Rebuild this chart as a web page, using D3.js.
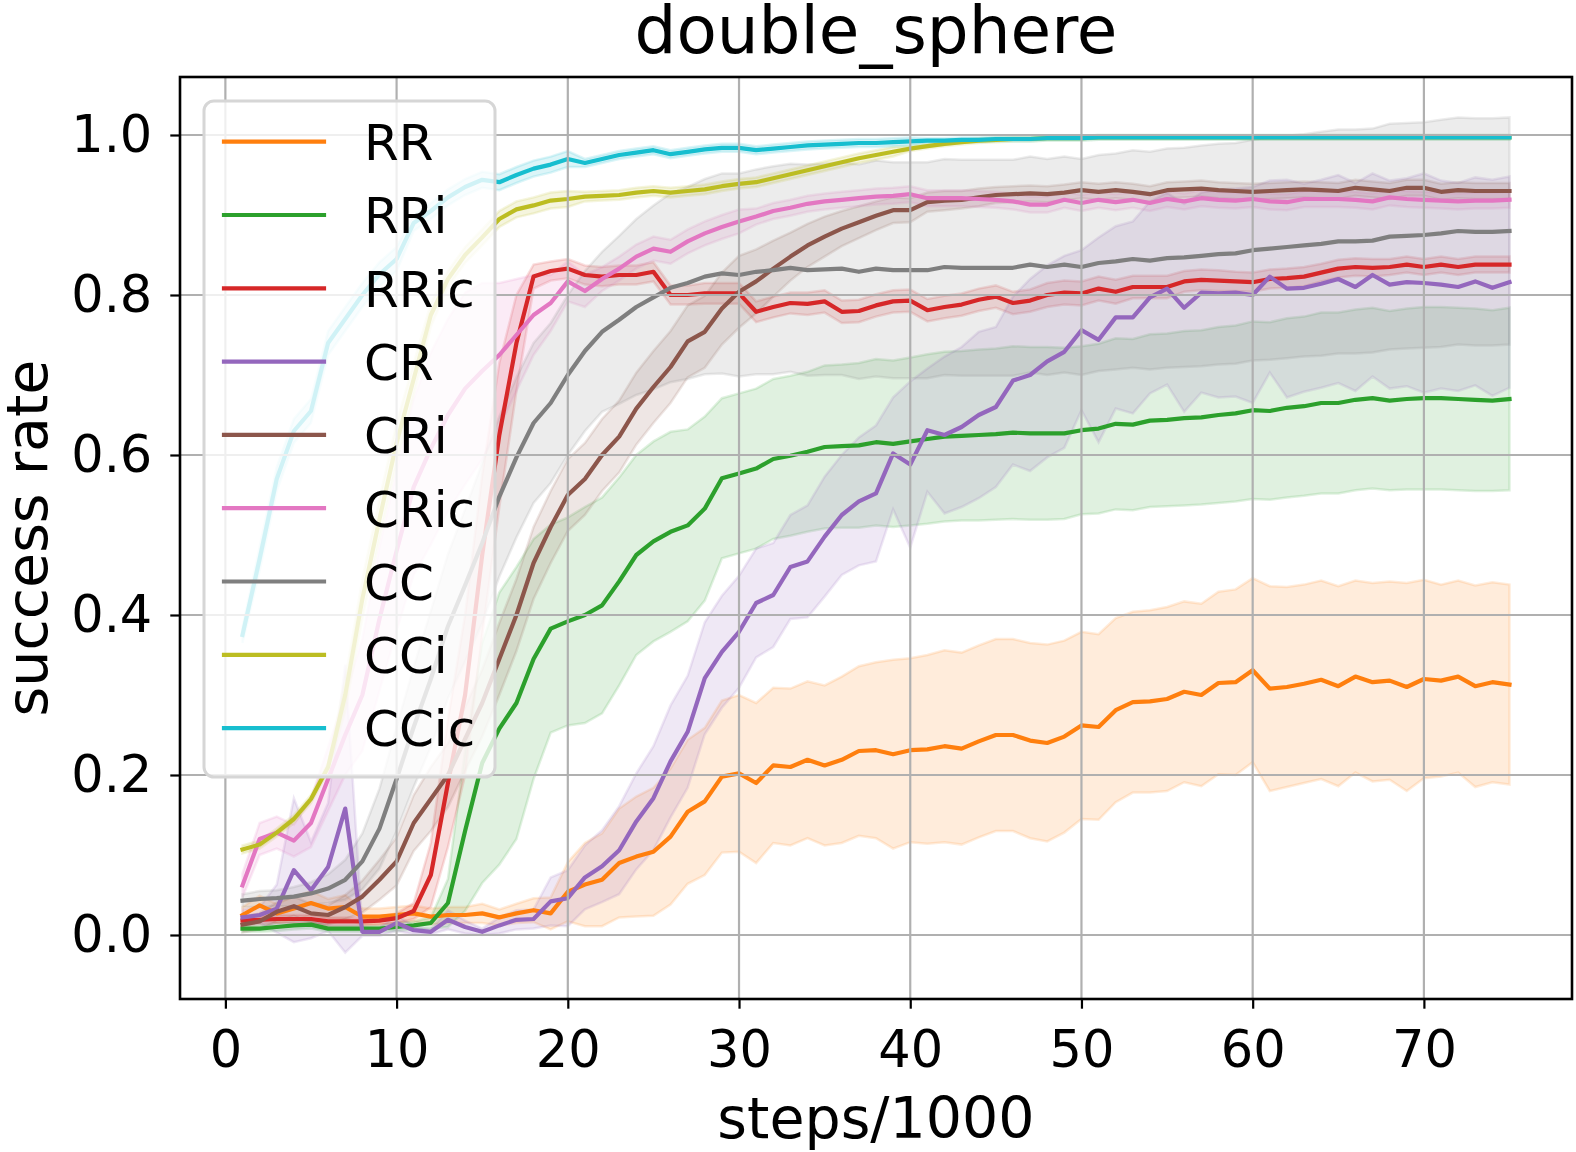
<!DOCTYPE html>
<html><head><meta charset="utf-8">
<script src="https://cdn.jsdelivr.net/npm/d3@7"></script>
<style>body{margin:0;background:#fff}svg{display:block}text{font-family:"DejaVu Sans",sans-serif;fill:#000}</style>
</head><body>
<svg id="c" width="1576" height="1152"></svg>
<script>
const steps = d3.range(1, 76);
const names = ["RR","RRi","RRic","CR","CRi","CRic","CC","CCi","CCic"];
const colors = ["#ff7f0e","#2ca02c","#d62728","#9467bd","#8c564b","#e377c2","#7f7f7f","#bcbd22","#17becf"];
const xTicks = [0,10,20,30,40,50,60,70];
const yTicks = [0.0,0.2,0.4,0.6,0.8,1.0];

const RR = [0.025,0.037,0.027,0.033,0.04,0.033,0.035,0.023,0.023,0.025, 0.027,0.023,0.025,0.025,0.027,0.022,0.027,0.031,0.027,0.054, 0.063,0.069,0.09,0.098,0.104,0.123,0.154,0.167,0.198,0.202, 0.19,0.212,0.21,0.219,0.212,0.219,0.23,0.231,0.226,0.231, 0.232,0.236,0.233,0.242,0.25,0.25,0.243,0.24,0.248,0.262, 0.26,0.281,0.291,0.292,0.295,0.304,0.3,0.315,0.316,0.331, 0.308,0.31,0.314,0.319,0.311,0.323,0.316,0.318,0.31,0.32, 0.318,0.323,0.311,0.316,0.313];
const RR_sd = [0.01,0.012,0.012,0.015,0.015,0.012,0.015,0.01,0.01,0.01, 0.01,0.01,0.01,0.01,0.012,0.01,0.012,0.015,0.02,0.037, 0.052,0.058,0.068,0.075,0.08,0.085,0.09,0.092,0.095,0.098, 0.1,0.097,0.098,0.098,0.1,0.104,0.106,0.11,0.118,0.115, 0.118,0.12,0.12,0.12,0.12,0.12,0.122,0.123,0.12,0.117, 0.116,0.115,0.113,0.114,0.115,0.113,0.114,0.114,0.116,0.115, 0.128,0.125,0.124,0.124,0.125,0.12,0.124,0.124,0.13,0.124, 0.12,0.12,0.126,0.125,0.125];

const RRi = [0.008,0.008,0.01,0.012,0.013,0.008,0.008,0.008,0.008,0.01, 0.012,0.015,0.04,0.13,0.215,0.258,0.29,0.345,0.383,0.392, 0.40,0.412,0.442,0.475,0.492,0.504,0.512,0.533,0.571,0.577, 0.583,0.595,0.599,0.604,0.61,0.611,0.612,0.616,0.614,0.617, 0.62,0.623,0.624,0.625,0.626,0.628,0.627,0.627,0.627,0.631, 0.633,0.639,0.638,0.643,0.644,0.646,0.647,0.65,0.652,0.656, 0.655,0.659,0.661,0.665,0.665,0.669,0.671,0.668,0.67,0.671, 0.671,0.67,0.669,0.668,0.67];
const RRi_sd = [0.004,0.004,0.005,0.005,0.005,0.004,0.004,0.004,0.004,0.005, 0.005,0.007,0.03,0.1,0.15,0.17,0.17,0.15,0.13,0.13, 0.135,0.135,0.13,0.125,0.125,0.125,0.12,0.115,0.1,0.1, 0.1,0.1,0.1,0.1,0.102,0.102,0.103,0.104,0.104,0.105, 0.106,0.106,0.106,0.107,0.107,0.108,0.108,0.108,0.107,0.105, 0.106,0.107,0.107,0.108,0.108,0.109,0.109,0.11,0.11,0.111, 0.111,0.112,0.112,0.113,0.113,0.113,0.113,0.112,0.113,0.114, 0.114,0.114,0.114,0.113,0.114];

const RRic = [0.018,0.019,0.02,0.02,0.02,0.017,0.017,0.017,0.018,0.021, 0.03,0.075,0.19,0.30,0.475,0.625,0.74,0.823,0.83,0.833, 0.825,0.823,0.825,0.825,0.829,0.80,0.80,0.802,0.802,0.802, 0.779,0.785,0.79,0.789,0.792,0.779,0.78,0.787,0.792,0.793, 0.781,0.785,0.788,0.794,0.798,0.79,0.793,0.80,0.803,0.802, 0.808,0.804,0.81,0.81,0.81,0.817,0.819,0.818,0.817,0.816, 0.82,0.821,0.823,0.828,0.833,0.835,0.834,0.835,0.838,0.835, 0.838,0.835,0.838,0.838,0.838];
const RRic_sd = [0.005,0.005,0.005,0.005,0.005,0.005,0.005,0.005,0.005,0.006, 0.01,0.04,0.08,0.1,0.1,0.09,0.06,0.015,0.012,0.012, 0.012,0.012,0.012,0.012,0.012,0.012,0.012,0.013,0.013,0.013, 0.013,0.013,0.013,0.014,0.014,0.014,0.014,0.014,0.014,0.014, 0.014,0.014,0.014,0.014,0.014,0.014,0.014,0.015,0.015,0.015, 0.015,0.015,0.014,0.014,0.014,0.013,0.013,0.013,0.012,0.012, 0.012,0.012,0.012,0.011,0.011,0.011,0.011,0.01,0.01,0.01, 0.01,0.01,0.01,0.01,0.01];

const CR = [0.022,0.025,0.033,0.081,0.056,0.085,0.158,0.004,0.004,0.015, 0.006,0.004,0.019,0.01,0.004,0.012,0.019,0.02,0.042,0.046, 0.072,0.086,0.106,0.142,0.171,0.217,0.254,0.321,0.354,0.379, 0.415,0.425,0.46,0.467,0.498,0.525,0.542,0.552,0.602,0.588, 0.631,0.625,0.635,0.65,0.66,0.693,0.70,0.717,0.729,0.756, 0.744,0.772,0.772,0.797,0.808,0.784,0.803,0.802,0.803,0.80, 0.823,0.808,0.809,0.814,0.82,0.81,0.825,0.813,0.816,0.815, 0.813,0.81,0.817,0.809,0.816];
const CR_sd = [0.01,0.01,0.03,0.09,0.06,0.08,0.18,0.005,0.005,0.01, 0.005,0.003,0.012,0.008,0.004,0.01,0.012,0.012,0.03,0.035, 0.04,0.045,0.055,0.06,0.065,0.07,0.07,0.07,0.07,0.07, 0.068,0.065,0.065,0.07,0.075,0.075,0.08,0.085,0.07,0.104, 0.077,0.098,0.1,0.104,0.1,0.105,0.12,0.12,0.12,0.1, 0.128,0.114,0.12,0.12,0.12,0.13,0.125,0.13,0.13,0.135, 0.12,0.136,0.13,0.13,0.13,0.13,0.127,0.13,0.13,0.137, 0.13,0.13,0.13,0.135,0.132];

const CRi = [0.013,0.017,0.029,0.036,0.027,0.025,0.035,0.048,0.069,0.092, 0.14,0.17,0.2,0.245,0.29,0.345,0.40,0.465,0.51,0.55, 0.57,0.60,0.623,0.658,0.685,0.71,0.742,0.754,0.783,0.804, 0.817,0.833,0.848,0.862,0.873,0.883,0.891,0.899,0.906,0.906, 0.916,0.918,0.919,0.922,0.925,0.926,0.927,0.926,0.928,0.931, 0.929,0.931,0.929,0.926,0.931,0.932,0.933,0.931,0.93,0.929, 0.93,0.931,0.932,0.931,0.93,0.934,0.932,0.93,0.934,0.934, 0.929,0.931,0.93,0.93,0.93];
const CRi_sd = [0.01,0.01,0.012,0.012,0.012,0.012,0.015,0.02,0.025,0.03, 0.035,0.04,0.04,0.04,0.042,0.045,0.045,0.045,0.045,0.045, 0.045,0.045,0.045,0.045,0.045,0.045,0.045,0.045,0.045,0.045, 0.04,0.035,0.03,0.027,0.025,0.022,0.02,0.018,0.016,0.015, 0.012,0.012,0.011,0.011,0.01,0.01,0.01,0.01,0.01,0.01, 0.01,0.01,0.01,0.01,0.01,0.01,0.01,0.01,0.01,0.01, 0.01,0.01,0.01,0.01,0.01,0.01,0.01,0.01,0.01,0.01, 0.01,0.01,0.01,0.01,0.01];

const CRic = [0.062,0.12,0.128,0.118,0.14,0.195,0.25,0.30,0.395,0.48, 0.56,0.608,0.65,0.683,0.705,0.725,0.75,0.775,0.79,0.817, 0.805,0.82,0.833,0.848,0.858,0.854,0.867,0.877,0.885,0.892, 0.898,0.905,0.909,0.914,0.917,0.919,0.921,0.923,0.924,0.926, 0.921,0.921,0.921,0.92,0.919,0.917,0.913,0.913,0.919,0.915, 0.919,0.916,0.919,0.915,0.92,0.917,0.921,0.919,0.918,0.92, 0.917,0.916,0.92,0.92,0.92,0.919,0.917,0.922,0.92,0.919, 0.918,0.917,0.918,0.918,0.919];
const CRic_sd = [0.015,0.02,0.02,0.02,0.03,0.04,0.05,0.07,0.09,0.1, 0.11,0.12,0.12,0.12,0.11,0.09,0.07,0.05,0.035,0.025, 0.02,0.015,0.015,0.015,0.015,0.015,0.015,0.015,0.015,0.015, 0.01,0.01,0.01,0.01,0.01,0.01,0.01,0.01,0.01,0.01, 0.01,0.01,0.01,0.01,0.01,0.01,0.01,0.01,0.01,0.01, 0.01,0.01,0.01,0.01,0.01,0.01,0.01,0.01,0.01,0.01, 0.01,0.01,0.01,0.01,0.01,0.01,0.01,0.01,0.01,0.01, 0.01,0.01,0.01,0.01,0.01];

const CC = [0.043,0.045,0.046,0.048,0.052,0.058,0.069,0.092,0.133,0.195, 0.26,0.32,0.386,0.437,0.49,0.548,0.597,0.64,0.665,0.70, 0.73,0.754,0.769,0.785,0.797,0.809,0.815,0.823,0.827,0.825, 0.829,0.831,0.834,0.831,0.832,0.833,0.829,0.833,0.831,0.831, 0.831,0.835,0.834,0.834,0.834,0.834,0.838,0.835,0.838,0.835, 0.84,0.842,0.845,0.843,0.846,0.847,0.849,0.851,0.852,0.856, 0.858,0.86,0.862,0.864,0.867,0.867,0.868,0.873,0.874,0.875, 0.877,0.88,0.879,0.879,0.88];
const CC_sd = [0.008,0.01,0.01,0.012,0.014,0.018,0.025,0.035,0.05,0.065, 0.075,0.085,0.09,0.095,0.1,0.1,0.1,0.1,0.1,0.1, 0.1,0.1,0.105,0.11,0.115,0.118,0.12,0.122,0.125,0.127, 0.128,0.13,0.13,0.132,0.132,0.133,0.134,0.135,0.135,0.135, 0.135,0.135,0.135,0.135,0.135,0.135,0.135,0.135,0.135,0.135, 0.135,0.135,0.136,0.136,0.137,0.137,0.138,0.138,0.138,0.138, 0.139,0.139,0.139,0.14,0.14,0.14,0.14,0.141,0.141,0.141, 0.142,0.142,0.142,0.142,0.142];

const CCi = [0.107,0.113,0.128,0.145,0.17,0.21,0.30,0.42,0.52,0.615, 0.695,0.775,0.82,0.85,0.872,0.895,0.907,0.912,0.918,0.92, 0.923,0.924,0.925,0.928,0.93,0.928,0.93,0.932,0.936,0.939, 0.941,0.946,0.951,0.956,0.961,0.966,0.971,0.975,0.979,0.983, 0.986,0.989,0.991,0.993,0.994,0.995,0.995,0.996,0.996,0.996, 0.997,0.997,0.997,0.997,0.997,0.997,0.997,0.997,0.997,0.997, 0.997,0.997,0.997,0.997,0.997,0.997,0.997,0.997,0.997,0.997, 0.997,0.997,0.997,0.997,0.997];
const CCi_sd = [0.005,0.005,0.005,0.005,0.005,0.005,0.02,0.025,0.025,0.025, 0.02,0.015,0.01,0.01,0.01,0.01,0.01,0.01,0.01,0.01, 0.006,0.006,0.006,0.006,0.006,0.006,0.006,0.006,0.006,0.006, 0.006,0.006,0.006,0.006,0.006,0.006,0.006,0.006,0.006,0.003, 0.003,0.003,0.003,0.003,0.003,0.003,0.003,0.003,0.003,0.003, 0.003,0.003,0.003,0.003,0.003,0.003,0.003,0.003,0.003,0.003, 0.003,0.003,0.003,0.003,0.003,0.003,0.003,0.003,0.003,0.003, 0.003,0.003,0.003,0.003,0.003];

const CCic = [0.375,0.47,0.57,0.63,0.655,0.74,0.77,0.80,0.826,0.845, 0.89,0.905,0.922,0.935,0.944,0.941,0.95,0.958,0.963,0.97, 0.965,0.97,0.975,0.978,0.981,0.976,0.979,0.982,0.984,0.984, 0.981,0.983,0.985,0.987,0.988,0.989,0.99,0.99,0.991,0.992, 0.993,0.993,0.994,0.994,0.995,0.995,0.995,0.996,0.996,0.996, 0.997,0.997,0.997,0.997,0.997,0.997,0.997,0.997,0.997,0.997, 0.997,0.997,0.997,0.997,0.997,0.997,0.997,0.997,0.997,0.997, 0.997,0.997,0.997,0.997,0.997];
const CCic_sd = [0.01,0.015,0.015,0.015,0.015,0.015,0.015,0.015,0.015,0.015, 0.01,0.01,0.01,0.01,0.01,0.01,0.01,0.01,0.01,0.01, 0.005,0.005,0.005,0.005,0.005,0.005,0.005,0.005,0.005,0.005, 0.005,0.005,0.005,0.005,0.005,0.005,0.005,0.005,0.005,0.005, 0.003,0.003,0.003,0.003,0.003,0.003,0.003,0.003,0.003,0.003, 0.003,0.003,0.003,0.003,0.003,0.003,0.003,0.003,0.003,0.003, 0.003,0.003,0.003,0.003,0.003,0.003,0.003,0.003,0.003,0.003, 0.003,0.003,0.003,0.003,0.003];

const means = [RR,RRi,RRic,CR,CRi,CRic,CC,CCi,CCic];
const sds = [RR_sd,RRi_sd,RRic_sd,CR_sd,CRi_sd,CRic_sd,CC_sd,CCi_sd,CCic_sd];

const M = {l:180, r:1572, t:77, b:999};
const x = d3.scaleLinear().domain([-2.65, 78.65]).range([M.l, M.r]);
const y = d3.scaleLinear().domain([-0.08, 1.0725]).range([M.b, M.t]);
const svg = d3.select("#c");

svg.append("defs").append("clipPath").attr("id","clip")
  .append("rect").attr("x",M.l).attr("y",M.t).attr("width",M.r-M.l).attr("height",M.b-M.t);

const plot = svg.append("g").attr("clip-path","url(#clip)");

// bands (below grid)
const area = d3.area().x(d=>x(d.s)).y0(d=>y(d.m-d.sd)).y1(d=>y(d.m+d.sd));
means.forEach((m,i)=>{
  const data = steps.map((s,k)=>({s, m:m[k], sd:sds[i][k]}));
  plot.append("path").datum(data).attr("d",area)
    .attr("fill",colors[i]).attr("fill-opacity",0.15)
    .attr("stroke",colors[i]).attr("stroke-opacity",0.15).attr("stroke-width",2.5);
});

// grid
const grid = svg.append("g");
xTicks.forEach(t=>grid.append("line").attr("x1",x(t)).attr("x2",x(t)).attr("y1",M.t).attr("y2",M.b)
  .attr("stroke","#b0b0b0").attr("stroke-width",2.2));
yTicks.forEach(t=>grid.append("line").attr("y1",y(t)).attr("y2",y(t)).attr("x1",M.l).attr("x2",M.r)
  .attr("stroke","#b0b0b0").attr("stroke-width",2.2));

// lines
const line = d3.line().x(d=>x(d.s)).y(d=>y(d.m));
means.forEach((m,i)=>{
  const data = steps.map((s,k)=>({s, m:m[k]}));
  plot.append("path").datum(data).attr("d",line).attr("fill","none")
    .attr("stroke",colors[i]).attr("stroke-width",4.2)
    .attr("stroke-linejoin","round").attr("stroke-linecap","square");
});

// axes via d3
const xAxis = d3.axisBottom(x).tickValues(xTicks).tickFormat(d3.format("d")).tickSize(9.7).tickPadding(22);
const gx = svg.append("g").attr("transform",`translate(0,${M.b})`).call(xAxis);
const yAxis = d3.axisLeft(y).tickValues(yTicks).tickFormat(d3.format(".1f")).tickSize(9.7).tickPadding(18);
const gy = svg.append("g").attr("transform",`translate(${M.l},0)`).call(yAxis);
[gx,gy].forEach(g=>{
  g.select(".domain").remove();
  g.selectAll(".tick line").attr("stroke","#000").attr("stroke-width",2.2);
  g.selectAll(".tick text").attr("fill","#000").style("font-size","51px").style("font-family","DejaVu Sans");
});

// spines
svg.append("rect").attr("x",M.l).attr("y",M.t).attr("width",M.r-M.l).attr("height",M.b-M.t)
  .attr("fill","none").attr("stroke","#000").attr("stroke-width",2.6);

// labels
svg.append("text").attr("x",(M.l+M.r)/2).attr("y",1138).attr("text-anchor","middle")
  .style("font-size","57px").text("steps/1000");
svg.append("text").attr("transform",`translate(47,${(M.t+M.b)/2}) rotate(-90)`).attr("text-anchor","middle")
  .style("font-size","57px").text("success rate");
svg.append("text").attr("x",(M.l+M.r)/2).attr("y",53).attr("text-anchor","middle")
  .style("font-size","66px").text("double_sphere");

// legend
const lg = svg.append("g");
lg.append("rect").attr("x",204).attr("y",101).attr("width",291).attr("height",676).attr("rx",10)
  .attr("fill","#fff").attr("fill-opacity",0.8).attr("stroke","#d6d6d6").attr("stroke-width",3);
names.forEach((n,i)=>{
  const cy = 141.7 + 73.3*i;
  lg.append("line").attr("x1",224).attr("x2",324).attr("y1",cy).attr("y2",cy)
    .attr("stroke",colors[i]).attr("stroke-width",4.2).attr("stroke-linecap","square");
  lg.append("text").attr("x",364).attr("y",cy+18.3).style("font-size","50px").text(n);
});
</script>
</body></html>
